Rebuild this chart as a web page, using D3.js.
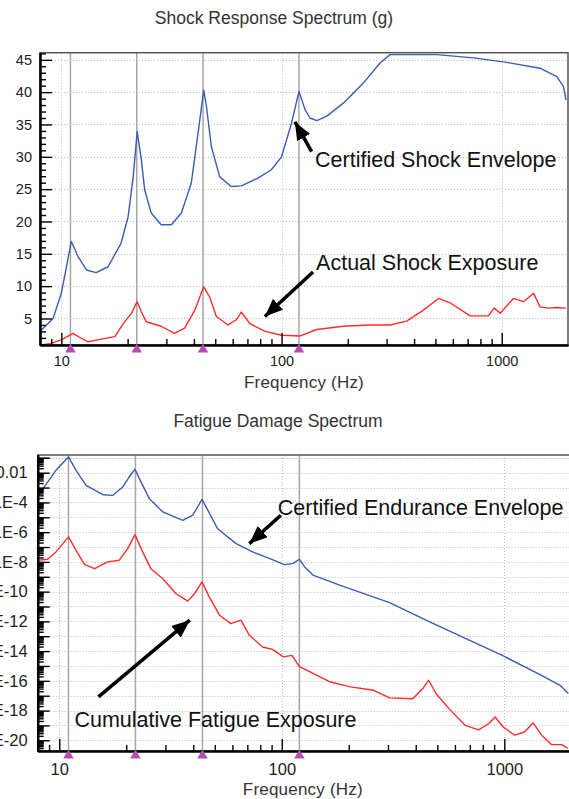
<!DOCTYPE html>
<html>
<head>
<meta charset="utf-8">
<script src="https://cdn.jsdelivr.net/npm/d3@7"></script>
<style>
  body { margin: 0; background: #fff; }
  svg { display: block; font-family: Arial, 'Liberation Sans', sans-serif; }
</style>
</head>
<body>
<svg id="chart" width="569" height="799"></svg>
<script>
// resonance markers (Hz) shared by both panels
const markerFreqs = [11, 22, 44, 120]
const xTickValues = [10, 100, 1000]

// Shock Response Spectrum (g)
const srsEnvFreq = [8.1, 9.17, 10, 11.1, 11.9, 13.0, 14.4, 16.3, 18.65, 20.1, 21.2, 22.1, 23.1, 23.9, 25.6, 28.4, 31.6, 35.1, 38.9, 41.8,
  44.3, 45.6, 48.0, 52.4, 59.1, 65.7, 78.2, 89.9, 100, 111, 120, 127.9, 134.7, 144.6, 160.5, 190.9, 235.3, 280.1, 311, 507,
  743, 1054, 1494, 1779, 1906, 1959]
const srsEnvelope = [3.2, 5.0, 8.9, 16.9, 14.6, 12.5, 12.1, 13.0, 16.6, 20.7, 26.9, 33.9, 29.5, 24.9, 21.3, 19.5, 19.5, 21.3, 25.9, 33.7,
  40.3, 37.8, 31.6, 26.9, 25.4, 25.5, 26.7, 28.0, 30.0, 35.2, 40.1, 37.3, 36.0, 35.6, 36.3, 38.3, 41.4, 44.5, 45.8, 45.8,
  45.3, 44.6, 43.7, 42.4, 40.9, 38.8]
const srsActFreq = [8.1, 9.0, 10, 11.3, 12.1, 13.2, 15.2, 17.5, 19.1, 20.8, 22.1, 23.1, 24.3, 28.4, 32.6, 36.3, 40.4, 44.3, 47.2, 50.6,
  57.2, 62.3, 65.7, 71.8, 84.1, 100, 121.6, 144.6, 191, 251, 311, 370, 441, 516, 584, 719, 870, 924, 985, 1130,
  1256, 1394, 1494, 1630, 1779, 1959]
const srsActual = [0.9, 1.15, 1.7, 2.7, 2.1, 1.4, 1.8, 2.2, 4.2, 5.8, 7.6, 6.0, 4.5, 3.8, 2.7, 3.5, 6.3, 9.9, 8.3, 5.3,
  4.0, 4.8, 6.0, 4.2, 3.0, 2.4, 2.3, 3.3, 3.8, 4.0, 4.0, 4.6, 6.3, 8.1, 7.4, 5.4, 5.4, 6.6, 5.8, 8.1,
  7.6, 8.9, 6.8, 6.6, 6.7, 6.6]
const srsYTicks = [5, 10, 15, 20, 25, 30, 35, 40, 45]

// Fatigue Damage Spectrum
const fdsEnvFreq = [8, 8.56, 9.66, 11.0, 11.9, 13.2, 15.7, 17.4, 19.3, 20.6, 21.9, 22.9, 25.4, 29.2, 35.9, 39.8, 43.8, 46.5, 51.5, 62.3,
  74, 87.9, 102.6, 111.9, 120, 126.7, 138, 182, 305, 462, 723, 990, 1447, 1780, 1940]
const fdsEnvelope = [2.5e-4, 1.1e-3, 1.45e-2, 1.15e-1, 1.45e-2, 1.4e-3, 3.3e-4, 3.0e-4, 1.1e-3, 5.1e-3, 1.7e-2, 4.0e-3, 1.8e-4, 2.3e-5, 6.3e-6, 1.4e-5, 1.6e-4, 3.0e-5, 1.7e-6, 1.7e-7,
  4.7e-8, 1.7e-8, 6.5e-9, 7.6e-9, 1.5e-8, 4.6e-9, 1.3e-9, 2.7e-10, 1.8e-11, 9.1e-13, 4.1e-14, 4.7e-15, 2.6e-16, 5.0e-17, 1.4e-17]
const fdsActFreq = [8, 8.87, 9.66, 11.0, 11.9, 13.0, 14.4, 16.5, 18.6, 20.3, 21.9, 23.7, 25.8, 29.2, 33.5, 37.8, 40.5, 43.8, 47.2, 52.5,
  59.0, 65.5, 71.4, 81.9, 91, 101.6, 111, 120, 134, 165.5, 203.5, 259, 305, 388, 430, 457, 493, 565, 668, 766,
  850, 910, 989, 1113, 1233, 1347, 1472, 1634, 1812, 1930]
const fdsActual = [1.3e-8, 1.5e-8, 4.7e-8, 4.8e-7, 6.0e-8, 6.5e-9, 3.5e-9, 1.0e-8, 1.3e-8, 7.8e-8, 6.8e-7, 4.7e-8, 3.5e-9, 7.4e-10, 7.2e-11, 2.3e-11, 7.2e-11, 4.5e-10, 4.4e-11, 2.6e-12,
  7.1e-13, 1.2e-12, 1.2e-13, 1.9e-14, 1.3e-14, 4.1e-15, 5.2e-15, 9.0e-16, 4.0e-16, 8.3e-17, 3.9e-17, 2.3e-17, 7.1e-18, 6.3e-18, 3.0e-17, 1.1e-16, 1.4e-17, 1.3e-18, 1.0e-19, 5.0e-20,
  1.3e-19, 3.7e-19, 7.9e-20, 2.2e-20, 3.6e-20, 1.5e-19, 2.2e-20, 5.1e-21, 5.1e-21, 2.8e-21]
const fdsYTicks = [1e-2, 1e-4, 1e-6, 1e-8, 1e-10, 1e-12, 1e-14, 1e-16, 1e-18, 1e-20]
const fdsYLabels = ['0.01', '1E-4', '1E-6', '1E-8', '1E-10', '1E-12', '1E-14', '1E-16', '1E-18', '1E-20']

// annotations, in data coordinates: [freq, value]
const srsNotes = [
  { text: 'Certified Shock Envelope', at: [142, 28.5], from: [137, 30.8], to: [115, 35.4] },
  { text: 'Actual Shock Exposure', at: [143.5, 12.5], from: [139, 12.2], to: [84, 5.3] }
]
const fdsNotes = [
  { text: 'Certified Endurance Envelope', at: [96, 1.36e-5], from: [99, 1.36e-5], to: [71.5, 1.7e-7] },
  { text: 'Cumulative Fatigue Exposure', at: [11.7, 7.9e-20], from: [15, 8.3e-18], to: [38.6, 1.2e-12] }
]

const BLUE = '#3a5cb4'
const RED = '#ff2b2b'

const svg = d3.select('#chart')

svg.append('defs').append('marker')
  .attr('id', 'head')
  .attr('markerUnits', 'userSpaceOnUse')
  .attr('viewBox', '0 0 18 15')
  .attr('markerWidth', 18)
  .attr('markerHeight', 15)
  .attr('refX', 18)
  .attr('refY', 7.5)
  .attr('orient', 'auto')
  .append('path')
  .attr('d', 'M0,0 L18,7.5 L0,15 Z')
  .attr('fill', '#000')

const drawPanel = (p) => {
  const x = p.x
  const y = p.y
  const [x0, x1] = x.range()
  const [yb, yt] = y.range()
  const g = svg.append('g')

  g.append('clipPath').attr('id', p.id + '-clip')
    .append('rect')
    .attr('x', x0).attr('y', yt)
    .attr('width', x1 - x0).attr('height', yb - yt)

  // dotted grid
  g.append('g').selectAll('line').data(p.gridY).join('line')
    .attr('x1', x0).attr('x2', x1)
    .attr('y1', d => Math.round(y(d)) + 0.5).attr('y2', d => Math.round(y(d)) + 0.5)
    .attr('stroke', '#bcbcbc').attr('stroke-dasharray', '1,2')
  g.append('g').selectAll('line').data(xTickValues).join('line')
    .attr('x1', d => Math.round(x(d)) + 0.5).attr('x2', d => Math.round(x(d)) + 0.5)
    .attr('y1', yt).attr('y2', yb)
    .attr('stroke', '#bcbcbc').attr('stroke-dasharray', '1,2')

  // resonance marker lines
  g.append('g').selectAll('line').data(markerFreqs).join('line')
    .attr('x1', d => x(d)).attr('x2', d => x(d))
    .attr('y1', yt).attr('y2', yb)
    .attr('stroke', '#a6a6a6').attr('stroke-width', 1.5)

  // frame
  g.append('rect')
    .attr('x', x0).attr('y', yt)
    .attr('width', x1 - x0).attr('height', yb - yt)
    .attr('fill', 'none').attr('stroke', '#555').attr('stroke-width', 1.5)

  // curves
  const line = d3.line()
    .x(d => x(d[0]))
    .y(d => y(d[1]))
  p.series.forEach(s => {
    g.append('path')
      .datum(d3.zip(s.freq, s.values))
      .attr('clip-path', `url(#${p.id}-clip)`)
      .attr('d', line)
      .attr('fill', 'none')
      .attr('stroke', s.color)
      .attr('stroke-width', 1.4)
      .attr('stroke-linejoin', 'round')
  })

  // axes, ticks pointing inward
  const yAxis = g.append('g').attr('transform', `translate(${x0},0)`)
    .call(d3.axisLeft(y).tickValues(p.yTicks).tickSize(-12).tickSizeOuter(0).tickPadding(p.yPad)
      .tickFormat((d, i) => p.yLabels[i]))
  yAxis.append('g')
    .call(d3.axisLeft(y).tickValues(p.yMinor).tickSize(-6).tickSizeOuter(0).tickFormat(''))
  if (p.yMid) {
    yAxis.append('g')
      .call(d3.axisLeft(y).tickValues(p.yMid).tickSize(-12).tickSizeOuter(0).tickFormat(''))
  }
  yAxis.selectAll('.domain').attr('stroke', '#000').attr('stroke-width', 2)
  yAxis.selectAll('.tick line').attr('stroke', '#000').attr('stroke-width', 1.4)
  yAxis.selectAll('.tick text').attr('fill', '#222').style('font-size', p.fontSize + 'px')

  const xMinor = [9, 20, 30, 40, 50, 60, 70, 80, 90, 200, 300, 400, 500, 600, 700, 800, 900]
  const xAxis = g.append('g').attr('transform', `translate(0,${yb})`)
    .call(d3.axisBottom(x).tickValues(xTickValues).tickSize(-12).tickSizeOuter(0).tickPadding(p.xPad)
      .tickFormat(d3.format('d')))
  xAxis.append('g')
    .call(d3.axisBottom(x).tickValues(xMinor).tickSize(-6).tickSizeOuter(0).tickFormat(''))
  xAxis.selectAll('.domain').attr('stroke', '#000').attr('stroke-width', 2)
  xAxis.selectAll('.tick line').attr('stroke', '#000').attr('stroke-width', 1.4)
  xAxis.selectAll('.tick text').attr('fill', '#222').style('font-size', p.fontSize + 'px')

  // purple resonance triangles
  g.append('g').selectAll('path').data(markerFreqs).join('path')
    .attr('d', d3.symbol(d3.symbolTriangle, 48))
    .attr('transform', d => `translate(${x(d)},${yb + 4.5})`)
    .attr('fill', '#b24db4')

  // titles
  g.append('text')
    .attr('x', p.titleX).attr('y', p.titleY)
    .attr('text-anchor', 'middle')
    .attr('fill', '#333')
    .style('font-size', '17.5px')
    .text(p.title)
  g.append('text')
    .attr('x', (x0 + 568) / 2).attr('y', p.xLabelY)
    .attr('text-anchor', 'middle')
    .attr('fill', '#333')
    .style('font-size', '17px')
    .style('letter-spacing', '0.2px')
    .text('Frequency (Hz)')

  // annotations
  p.notes.forEach(n => {
    const ax = x(n.from[0])
    const ay = y(n.from[1])
    const bx = x(n.to[0])
    const by = y(n.to[1])
    g.append('line')
      .attr('x1', ax).attr('y1', ay)
      .attr('x2', bx).attr('y2', by)
      .attr('stroke', '#000').attr('stroke-width', 3.5)
      .attr('marker-end', 'url(#head)')
    g.append('text')
      .attr('x', x(n.at[0])).attr('y', y(n.at[1]))
      .attr('fill', '#111')
      .style('font-size', '21.5px')
      .text(n.text)
  })
}

// top panel
const srsMinor = d3.range(1, 47).filter(v => v % 5 !== 0)
drawPanel({
  id: 'srs',
  x: d3.scaleLog().domain([8, 2000]).range([40, 568]),
  y: d3.scaleLinear().domain([0.9, 46.1]).range([345, 52.7]),
  gridY: srsYTicks,
  yTicks: srsYTicks,
  yLabels: srsYTicks.map(String),
  yMinor: srsMinor,
  yPad: 8,
  xPad: 11,
  fontSize: 14.5,
  title: 'Shock Response Spectrum (g)',
  titleX: 274,
  titleY: 24,
  xLabelY: 388,
  series: [
    { freq: srsEnvFreq, values: srsEnvelope, color: BLUE },
    { freq: srsActFreq, values: srsActual, color: RED }
  ],
  notes: srsNotes
})

// bottom panel
const fdsDecades = d3.range(-20, 0).map(k => Math.pow(10, k))
const fdsMinor = []
d3.range(-21, 0).forEach(k => {
  d3.range(2, 10).forEach(m => {
    const v = m * Math.pow(10, k)
    if (v > Math.pow(10, -20.72) && v < Math.pow(10, -0.81)) fdsMinor.push(v)
  })
})
drawPanel({
  id: 'fds',
  x: d3.scaleLog().domain([8, 2000]).range([37.7, 571.3]),
  y: d3.scaleLog().domain([Math.pow(10, -20.72), Math.pow(10, -0.81)]).range([751, 455]),
  gridY: fdsDecades.concat([0.1]),
  yTicks: fdsYTicks,
  yLabels: fdsYLabels,
  yMinor: fdsMinor,
  yMid: fdsDecades.filter(v => !fdsYTicks.includes(v)).concat([0.1]),
  yPad: 10,
  xPad: 12,
  fontSize: 16.5,
  title: 'Fatigue Damage Spectrum',
  titleX: 278,
  titleY: 427,
  xLabelY: 795,
  series: [
    { freq: fdsEnvFreq, values: fdsEnvelope, color: BLUE },
    { freq: fdsActFreq, values: fdsActual, color: RED }
  ],
  notes: fdsNotes
})
</script>
</body>
</html>
